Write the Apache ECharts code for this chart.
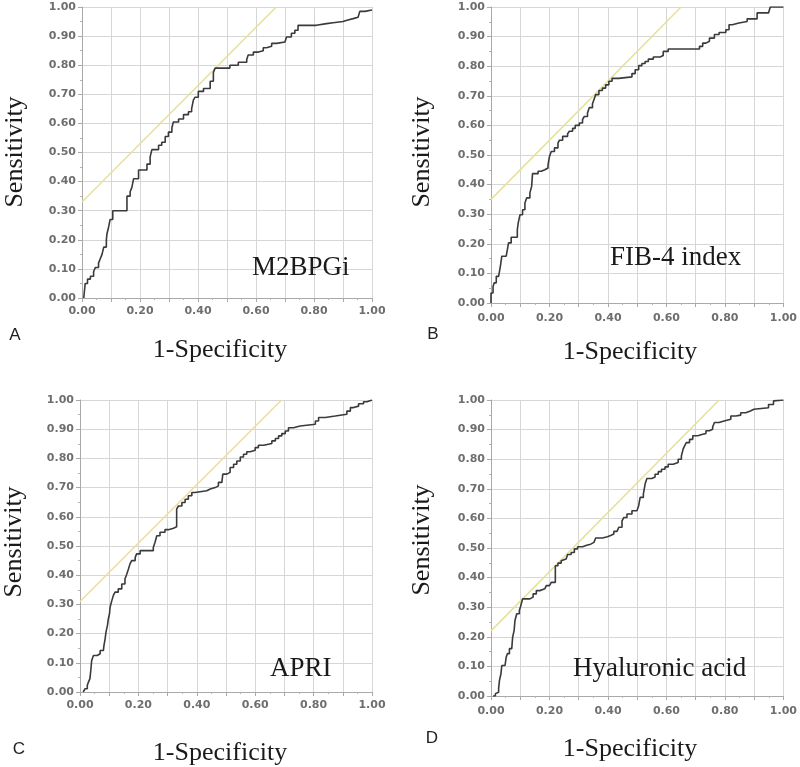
<!DOCTYPE html>
<html>
<head>
<meta charset="utf-8">
<script src="https://cdn.jsdelivr.net/npm/echarts@6/dist/echarts.min.js"></script>
<style>html,body{margin:0;padding:0;background:#fff;}#c{width:800px;height:767px;}</style>
</head>
<body>
<div id="c"></div>
<script>
// ---- Data ----
const panelLetters = ['A', 'B', 'C', 'D'];
const panelNames = ['M2BPGi', 'FIB-4 index', 'APRI', 'Hyaluronic acid'];
const xTitle = '1-Specificity';
const yTitle = 'Sensitivity';

const fprA = [0.006,0.011,0.019,0.029,0.040,0.046,0.057,0.063,0.069,0.075,0.084,0.086,0.092,0.097,0.106,0.155,0.166,0.172,0.178,0.195,0.224,0.235,0.241,0.264,0.275,0.287,0.298,0.310,0.315,0.333,0.350,0.367,0.378,0.384,0.390,0.401,0.419,0.442,0.453,0.459,0.510,0.539,0.568,0.573,0.591,0.608,0.625,0.636,0.654,0.671,0.700,0.705,0.722,0.734,0.745,0.808,0.843,0.866,0.900,0.917,0.935,0.952,0.958,0.975,1.0];
const tprA = [0,0.05,0.065,0.075,0.09,0.105,0.12,0.135,0.15,0.175,0.20,0.22,0.245,0.27,0.30,0.35,0.365,0.38,0.41,0.44,0.46,0.485,0.51,0.525,0.535,0.555,0.57,0.585,0.605,0.615,0.63,0.64,0.65,0.68,0.69,0.71,0.72,0.745,0.775,0.79,0.80,0.81,0.82,0.835,0.845,0.85,0.86,0.865,0.875,0.88,0.886,0.897,0.91,0.92,0.937,0.943,0.946,0.95,0.955,0.96,0.965,0.97,0.985,0.99,0.99];

const fprB = [0,0,0.007,0.011,0.018,0.026,0.032,0.037,0.052,0.056,0.060,0.069,0.090,0.093,0.099,0.108,0.116,0.122,0.133,0.139,0.142,0.161,0.172,0.184,0.195,0.200,0.206,0.217,0.229,0.234,0.245,0.262,0.268,0.279,0.288,0.302,0.313,0.319,0.330,0.336,0.347,0.352,0.358,0.369,0.381,0.392,0.403,0.414,0.437,0.482,0.493,0.505,0.516,0.527,0.538,0.555,0.578,0.589,0.606,0.713,0.724,0.735,0.747,0.764,0.780,0.803,0.814,0.825,0.848,0.876,0.910,0.949,0.955,1.0];
const tprB = [0,0.034,0.056,0.068,0.09,0.096,0.124,0.158,0.163,0.18,0.203,0.222,0.248,0.27,0.298,0.315,0.338,0.355,0.372,0.394,0.437,0.445,0.45,0.456,0.467,0.495,0.512,0.524,0.54,0.55,0.563,0.572,0.58,0.59,0.60,0.608,0.62,0.63,0.642,0.66,0.673,0.687,0.704,0.718,0.726,0.737,0.749,0.759,0.764,0.775,0.788,0.802,0.809,0.816,0.824,0.831,0.836,0.85,0.858,0.867,0.878,0.884,0.895,0.907,0.914,0.923,0.94,0.946,0.951,0.96,0.98,0.982,1.0,1.0];

const fprC = [0.011,0.017,0.025,0.029,0.034,0.037,0.040,0.046,0.059,0.069,0.080,0.082,0.086,0.089,0.094,0.097,0.101,0.103,0.109,0.114,0.120,0.131,0.143,0.154,0.160,0.166,0.171,0.177,0.189,0.194,0.206,0.251,0.257,0.263,0.274,0.291,0.303,0.320,0.331,0.337,0.349,0.360,0.371,0.383,0.394,0.434,0.446,0.463,0.474,0.486,0.489,0.503,0.514,0.526,0.537,0.549,0.560,0.571,0.583,0.600,0.611,0.629,0.657,0.669,0.680,0.691,0.703,0.714,0.731,0.754,0.806,0.817,0.840,0.874,0.914,0.926,0.937,0.954,0.971,0.983,1.0];
const tprC = [0,0.011,0.023,0.034,0.046,0.074,0.108,0.125,0.131,0.142,0.148,0.159,0.182,0.205,0.228,0.25,0.268,0.29,0.313,0.33,0.342,0.353,0.37,0.387,0.403,0.421,0.438,0.45,0.461,0.473,0.484,0.495,0.513,0.535,0.547,0.556,0.561,0.566,0.626,0.637,0.649,0.66,0.672,0.683,0.689,0.695,0.70,0.706,0.718,0.723,0.746,0.752,0.769,0.78,0.791,0.805,0.814,0.823,0.828,0.837,0.845,0.851,0.86,0.868,0.877,0.885,0.894,0.905,0.911,0.917,0.928,0.94,0.945,0.951,0.962,0.974,0.979,0.987,0.994,1.0,1.0];

const fprD = [0.007,0.015,0.020,0.026,0.029,0.034,0.037,0.048,0.052,0.056,0.063,0.071,0.074,0.079,0.082,0.088,0.097,0.101,0.105,0.108,0.133,0.144,0.155,0.167,0.184,0.189,0.200,0.206,0.220,0.229,0.240,0.245,0.257,0.262,0.274,0.285,0.296,0.313,0.330,0.341,0.352,0.358,0.381,0.398,0.409,0.420,0.431,0.437,0.448,0.454,0.465,0.482,0.499,0.505,0.510,0.521,0.527,0.533,0.550,0.561,0.572,0.583,0.595,0.606,0.623,0.640,0.651,0.657,0.662,0.668,0.679,0.690,0.707,0.724,0.735,0.747,0.758,0.764,0.780,0.797,0.820,0.837,0.854,0.871,0.887,0.899,0.949,0.966,0.972,1.0];
const tprD = [0,0.008,0.013,0.025,0.053,0.075,0.103,0.109,0.131,0.143,0.16,0.165,0.199,0.221,0.255,0.278,0.289,0.302,0.317,0.328,0.334,0.345,0.356,0.362,0.367,0.373,0.378,0.384,0.44,0.449,0.457,0.463,0.469,0.478,0.485,0.497,0.504,0.51,0.513,0.519,0.525,0.534,0.538,0.542,0.547,0.556,0.562,0.57,0.592,0.603,0.615,0.626,0.631,0.643,0.671,0.682,0.716,0.735,0.74,0.749,0.758,0.766,0.774,0.783,0.789,0.80,0.811,0.834,0.845,0.856,0.867,0.879,0.884,0.887,0.896,0.901,0.909,0.924,0.929,0.935,0.946,0.949,0.957,0.963,0.969,0.974,0.985,0.997,1.0,1.0];

// Pale yellow reference (tangent) lines: endpoints
const refX = [[0, 0.67], [0, 0.65], [0, 0.69], [0, 0.78]];
const refY = [[0.33, 1.0], [0.35, 1.0], [0.31, 1.0], [0.22, 1.0]];

const fprs = [fprA, fprB, fprC, fprD];
const tprs = [tprA, tprB, tprC, tprD];

// ---- Layout ----
const grids = [
  {left: 82, top: 7, width: 290, height: 291},
  {left: 491, top: 7, width: 296, height: 296},
  {left: 80, top: 400, width: 292, height: 292},
  {left: 491, top: 400, width: 296, height: 296}
];
const yTitlePos = [[15, 152], [422, 152], [14, 542], [422, 540]];
const xTitlePos = [[220, 350], [630, 352], [220, 753], [630, 749]];
const letterPos = [[15, 335], [433, 334], [19, 749], [432, 738]];
const namePos = [[252, 268], [610, 258], [270, 669], [573, 669]];

const axisCommon = {
  type: 'value', min: 0, max: 1, interval: 0.1,
  axisLine: {show: true, lineStyle: {color: '#a9a9a9', width: 1}},
  axisTick: {show: true, length: 4, lineStyle: {color: '#a9a9a9'}},
  minorTick: {show: true, splitNumber: 2, length: 2, lineStyle: {color: '#b5b5b5'}},
  splitLine: {show: true, lineStyle: {color: '#d6d6d6', width: 1}},
  axisLabel: {color: '#6e6e6e', fontFamily: 'DejaVu Sans', fontWeight: 'bold', fontSize: 11}
};

const xAxes = [], yAxes = [], series = [], graphics = [];
for (let i = 0; i < 4; i++) {
  xAxes.push(Object.assign({}, axisCommon, {
    gridIndex: i,
    axisLabel: Object.assign({}, axisCommon.axisLabel, {
      margin: i % 2 === 0 ? 8 : 10,
      formatter: v => (Math.round(v * 10) % 2 === 0 ? v.toFixed(2) : '')
    })
  }));
  yAxes.push(Object.assign({}, axisCommon, {
    gridIndex: i,
    axisLabel: Object.assign({}, axisCommon.axisLabel, {
      margin: 6,
      formatter: v => v.toFixed(2)
    })
  }));
  series.push({
    type: 'line', xAxisIndex: i, yAxisIndex: i, silent: true,
    showSymbol: false, animation: false,
    data: refX[i].map((x, k) => [x, refY[i][k]]),
    lineStyle: {color: '#e8df9c', width: 1.5}
  });
  series.push({
    type: 'line', xAxisIndex: i, yAxisIndex: i, silent: true,
    showSymbol: false, animation: false, step: 'end',
    data: fprs[i].map((x, k) => [x, tprs[i][k]]),
    lineStyle: {color: '#3a3a3a', width: 1.6}
  });
  graphics.push({
    type: 'text', x: yTitlePos[i][0], y: yTitlePos[i][1], rotation: Math.PI / 2,
    style: {text: yTitle, font: '26px "Liberation Serif"', fill: '#1a1a1a', align: 'center', verticalAlign: 'middle'}
  });
  graphics.push({
    type: 'text', x: xTitlePos[i][0], y: xTitlePos[i][1],
    style: {text: xTitle, font: '26px "Liberation Serif"', fill: '#1a1a1a', align: 'center', verticalAlign: 'middle'}
  });
  graphics.push({
    type: 'text', x: letterPos[i][0], y: letterPos[i][1],
    style: {text: panelLetters[i], font: '17px "Liberation Sans"', fill: '#222', align: 'center', verticalAlign: 'middle'}
  });
  graphics.push({
    type: 'text', x: namePos[i][0], y: namePos[i][1], z: 10,
    style: {text: panelNames[i], font: '27px "Liberation Serif"', fill: '#1a1a1a', align: 'left', verticalAlign: 'middle'}
  });
}

const chart = echarts.init(document.getElementById('c'), null, {renderer: 'canvas'});
chart.setOption({
  animation: false,
  backgroundColor: '#ffffff',
  grid: grids.map(g => Object.assign({containLabel: false}, g)),
  xAxis: xAxes,
  yAxis: yAxes,
  series: series,
  graphic: graphics
});
</script>
</body>
</html>
